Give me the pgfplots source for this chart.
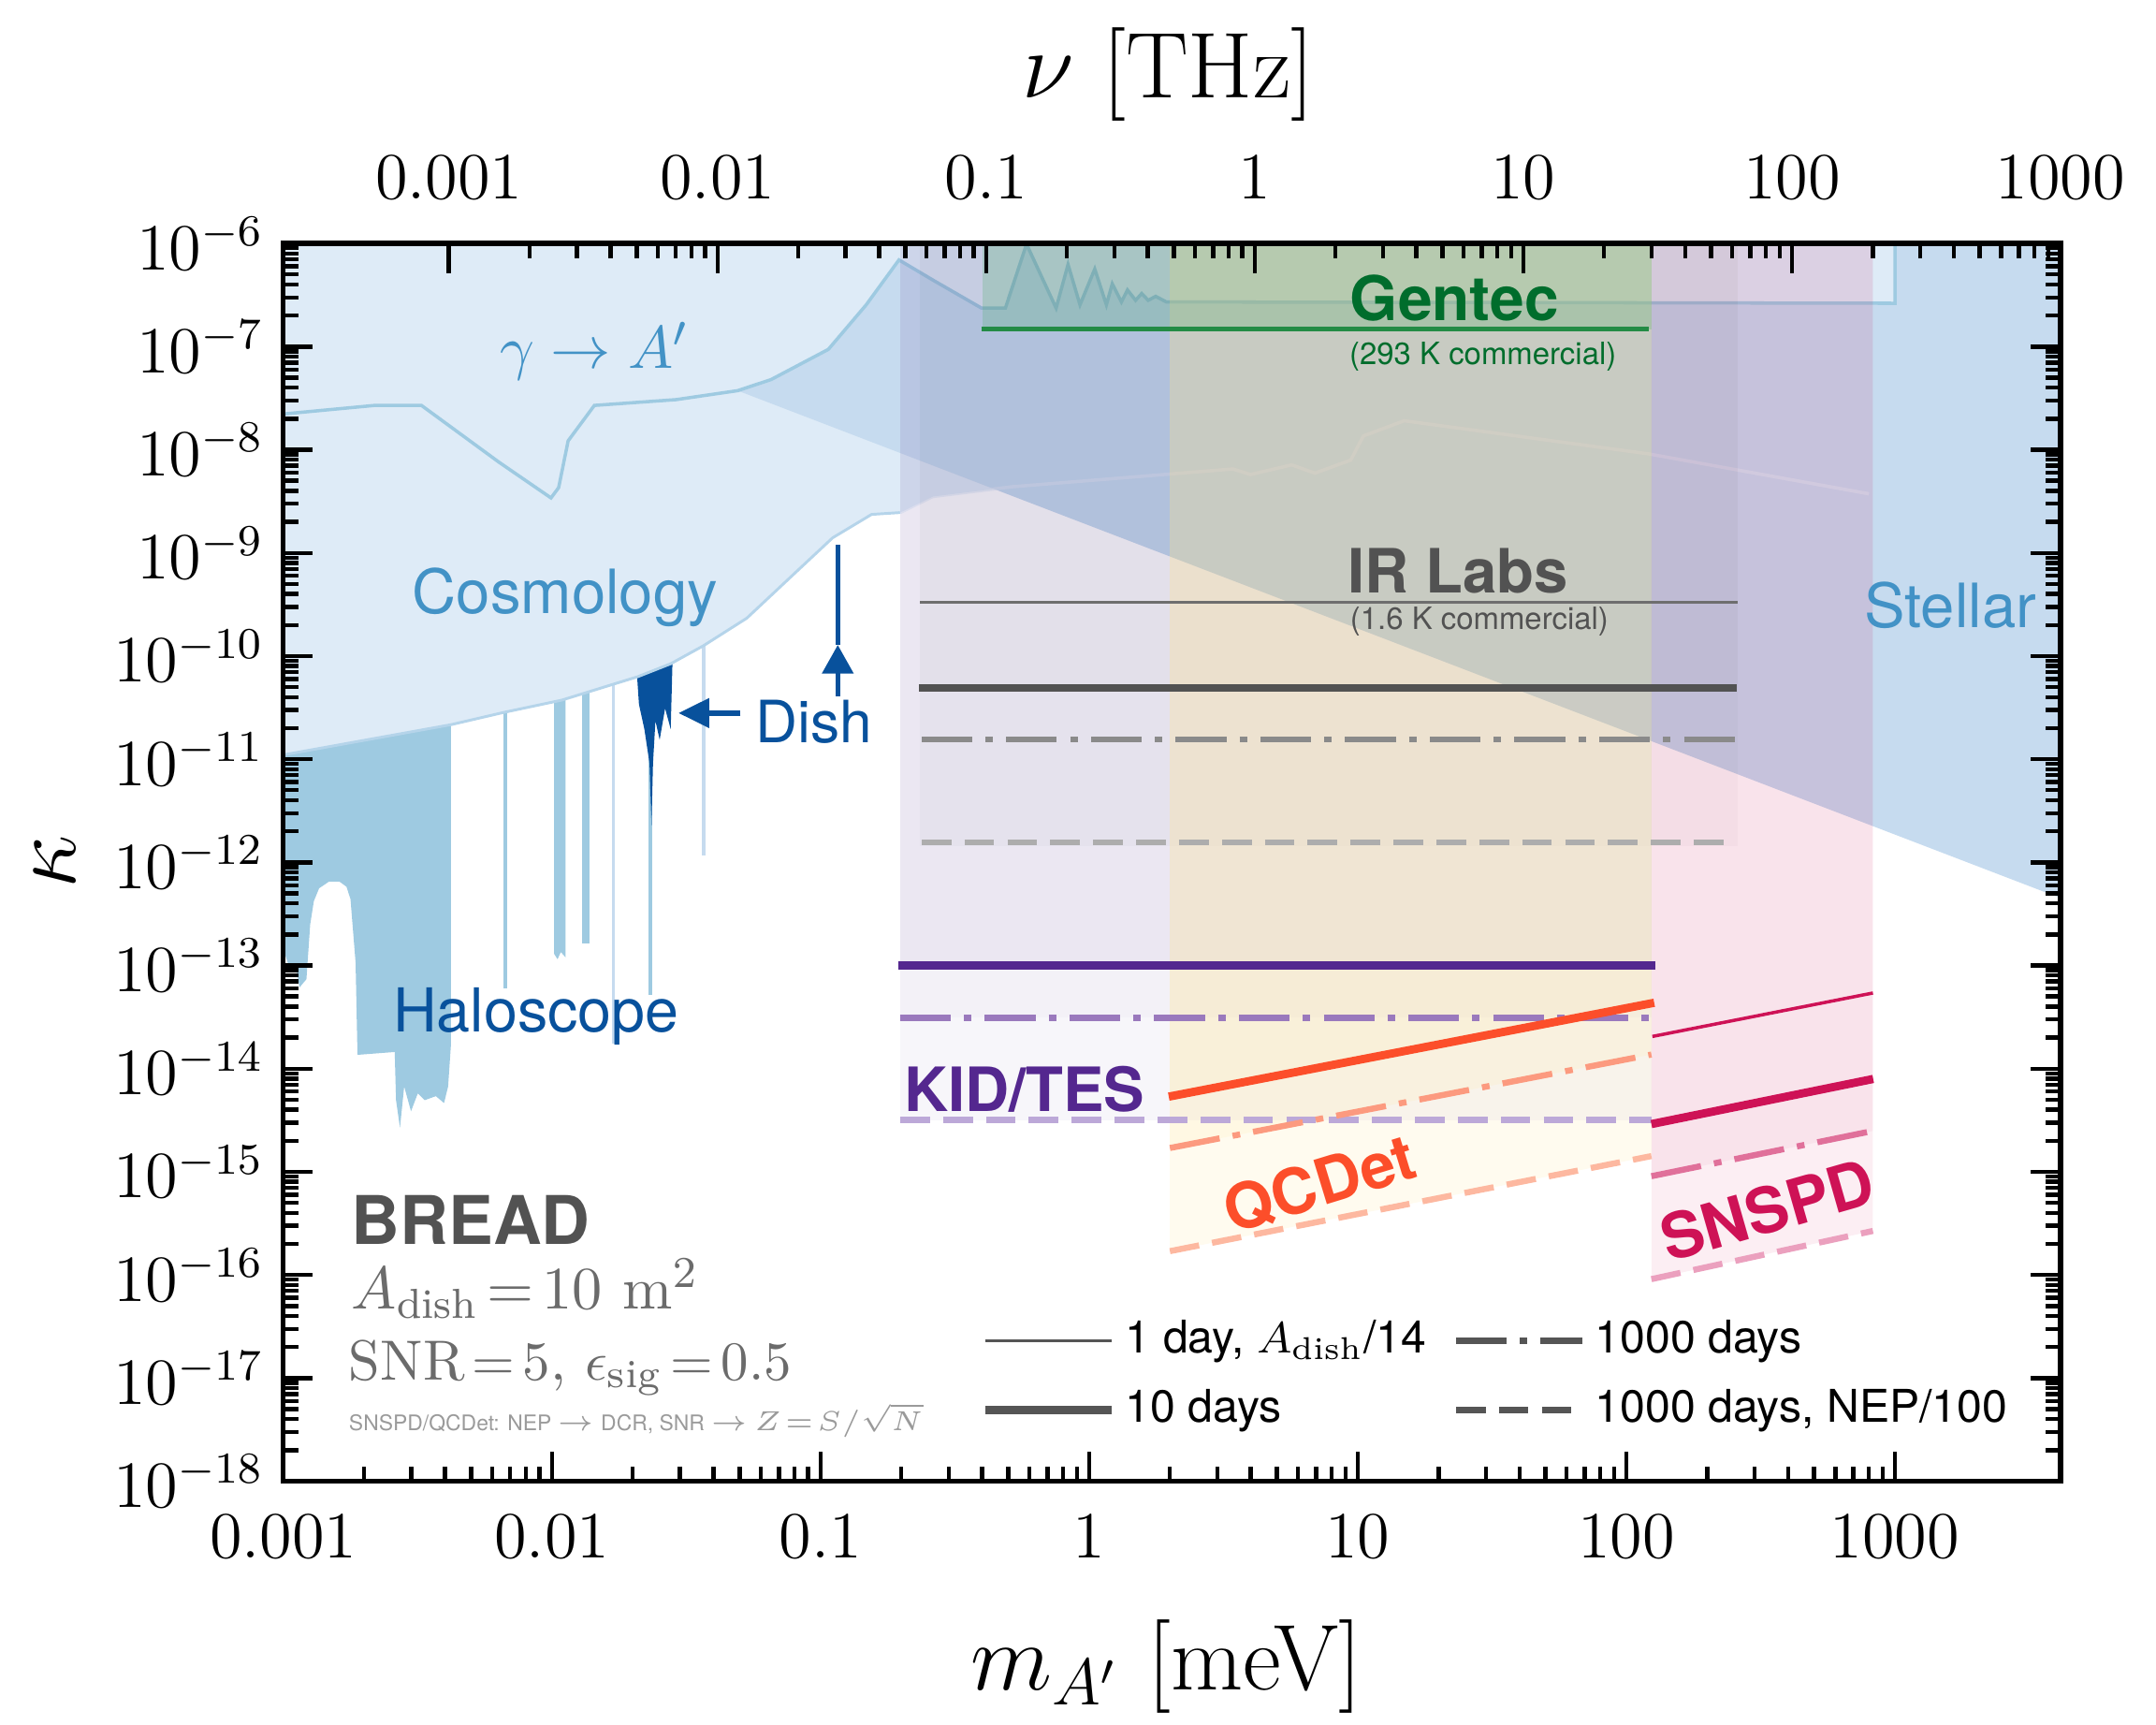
\documentclass[border=0pt]{standalone}
\usepackage{pgfplots}
\pgfplotsset{compat=1.18}
\usepackage{fontspec}
\newfontfamily\hv{TeX Gyre Heros}
\usetikzlibrary{arrows.meta}
\definecolor{cosmo}{HTML}{DEEBF7}
\definecolor{stellar}{HTML}{C6DBEF}
\definecolor{halo}{HTML}{9ECAE1}
\definecolor{bluetext}{HTML}{4292C6}
\definecolor{darkblue}{HTML}{08519C}
\definecolor{cosmoedge}{HTML}{B5D4EA}
\definecolor{irgray}{HTML}{525252}
\definecolor{irthin}{HTML}{6E6E6E}
\definecolor{irdd}{HTML}{8A8A8A}
\definecolor{irdash}{HTML}{ADADAD}
\definecolor{kidfill}{HTML}{6A51A3}
\definecolor{kid}{HTML}{54278F}
\definecolor{kiddd}{HTML}{9A79BD}
\definecolor{kiddash}{HTML}{BCA8D8}
\definecolor{qcdfill}{HTML}{FEE391}
\definecolor{qcd}{HTML}{FC4E2A}
\definecolor{qcddd}{HTML}{FC9A7F}
\definecolor{qcddash}{HTML}{FDB8A0}
\definecolor{sns}{HTML}{CE1256}
\definecolor{snsdd}{HTML}{E0709A}
\definecolor{snsdash}{HTML}{EBA0BE}
\definecolor{gentec}{HTML}{006D2C}
\definecolor{gentecline}{HTML}{238B45}
\definecolor{gentecfill}{HTML}{41AB5D}
\definecolor{legendgray}{HTML}{555555}
\definecolor{notegray}{HTML}{6B6B6B}
\definecolor{smallgray}{HTML}{9A9A9A}
\tikzset{
  thinl/.style={line width=0.6pt},
  thickl/.style={line width=1.5pt},
  ddl/.style={line width=1.1pt, dash pattern=on 9.2pt off 2.4pt on 1.4pt off 2.4pt},
  dashl/.style={line width=1.1pt, dash pattern=on 5.4pt off 2.4pt},
}
\pgfplotsset{
  frame/.style={
    at={(0pt,0pt)}, anchor=south west,
    scale only axis, width=323.15pt, height=225pt,
    tick align=inside,
    major tick length=5.4pt, minor tick length=2.7pt,
    tick style={black, line width=0.75pt},
    tick label style={font=\fontsize{12}{14}\selectfont},
  },
}
\begin{document}
\begin{tikzpicture}
\begin{axis}[
  frame,
  xmode=log, ymode=log,
  xmin=0.001, xmax=4135.7, ymin=1e-18, ymax=1e-6,
  xtickten={-3,-2,-1,0,1,2,3},
  xticklabels={$0.001$,$0.01$,$0.1$,$1$,$10$,$100$,$1000$},
  ytickten={-18,-17,...,-6},
  xtick pos=left,
  axis line style={line width=0.9pt},
  xticklabel style={yshift=-2.75pt},
  xlabel={$m_{A'}$ [meV]},
  xlabel style={font=\fontsize{17}{20}\selectfont, inner sep=0pt, at={(axis description cs:0.497,-0.15)}, anchor=center},
  ylabel={$\kappa$},
  ylabel style={font=\fontsize{17}{20}\selectfont, inner sep=0pt, at={(axis description cs:-0.1284,0.5)}, anchor=center},
  legend columns=2,
  legend cell align=left,
  legend image code/.code={\draw[#1] (0pt,0pt) -- (23pt,0pt);},
  legend style={at={(rel axis cs:0.392,0.139)}, anchor=north west, draw=none, fill=none,
    inner sep=0pt, font=\hv\fontsize{8.2}{9.5}\selectfont, row sep=1.5pt,
    nodes={inner sep=1.8pt},
    /tikz/every even column/.append style={column sep=3pt}},
]
% legend entries
\addlegendimage{legendgray, thinl}
\addlegendentry{1 day, $A_\mathrm{dish}$/14}
\addlegendimage{legendgray, ddl}
\addlegendentry{1000 days}
\addlegendimage{legendgray, thickl}
\addlegendentry{10 days}
\addlegendimage{legendgray, dashl}
\addlegendentry{1000 days, NEP/100}

% Haloscope
\addplot[fill=halo, draw=none, forget plot] coordinates {(0.001,1e-10) (0.001,1.45e-13) (0.00106,9.12e-14) (0.00111,1.06e-13) (0.00115,6.12e-14) (0.00122,7.36e-14) (0.00126,2.5e-13) (0.00130,4.2e-13) (0.00136,5.6e-13) (0.00148,6.5e-13) (0.00162,6.5e-13) (0.00172,5.8e-13) (0.00178,4.4e-13) (0.00183,1.8e-13) (0.00186,1.06e-13) (0.00189,1.36e-14) (0.0026,1.45e-14) (0.00263,4.94e-15) (0.00272,2.67e-15) (0.00282,6.71e-15) (0.00299,3.86e-15) (0.00317,5.75e-15) (0.00336,4.94e-15) (0.0037,5.41e-15) (0.00397,4.64e-15) (0.00411,6.71e-15) (0.00421,1.69e-14) (0.00421,1e-10)};
\addplot[halo, line width=0.6pt, forget plot] coordinates {(0.0067,6.03e-14) (0.0067,1e-10)};
\addplot[fill=halo, draw=none, forget plot] coordinates {(0.01019,1.3e-13) (0.0105,1.15e-13) (0.0108,1.35e-13) (0.01125,1.2e-13) (0.01125,1e-10) (0.01019,1e-10)};
\addplot[fill=halo, draw=none, forget plot] coordinates {(0.0130,1.64e-13) (0.0138,1.64e-13) (0.0138,1e-10) (0.0130,1e-10)};
\addplot[stellar, line width=0.5pt, forget plot] coordinates {(0.0170,1.75e-14) (0.0170,1e-10)};
\addplot[halo, line width=0.6pt, forget plot] coordinates {(0.0233,5.17e-14) (0.0233,1e-10)};
\addplot[stellar, line width=0.6pt, forget plot] coordinates {(0.0367,1.17e-12) (0.0367,1e-9)};
% Dish
\addplot[fill=darkblue, draw=none, forget plot] coordinates {(0.0208,2e-10) (0.0208,6.0e-11) (0.0211,3.41e-11) (0.0221,1.96e-11) (0.0231,9.12e-12) (0.0235,2.29e-12) (0.0238,9.12e-12) (0.0243,2.36e-11) (0.0252,1.54e-11) (0.0264,3.11e-11) (0.0277,1.96e-11) (0.0281,8.0e-11) (0.0281,2e-10)};
% Cosmology
\addplot[fill=cosmo, draw=none, forget plot] coordinates {(0.001,1.10e-11) (0.00421,2.16e-11) (0.00662,2.84e-11) (0.0109,3.74e-11) (0.0209,6.31e-11) (0.0277,8.42e-11) (0.0367,1.26e-10) (0.0532,2.33e-10) (0.080,6.31e-10) (0.111,1.40e-9) (0.155,2.36e-9) (0.198,2.46e-9) (0.262,3.52e-9) (0.514,4.37e-9) (3.43,6.51e-9) (3.99,5.75e-9) (5.68,7.13e-9) (6.93,5.93e-9) (9.42,7.94e-9) (10.5,1.36e-8) (14.9,1.91e-8) (121,9.12e-9) (800,3.74e-9) (828,2.93e-9) (828,1e-6) (0.001,1e-6)};
\addplot[cosmoedge, line width=0.5pt, forget plot] coordinates {(0.001,1.10e-11) (0.00421,2.16e-11) (0.00662,2.84e-11) (0.0109,3.74e-11) (0.0209,6.31e-11) (0.0277,8.42e-11) (0.0367,1.26e-10) (0.0532,2.33e-10) (0.080,6.31e-10) (0.111,1.40e-9) (0.155,2.36e-9) (0.198,2.46e-9)};
% Stellar
\addplot[fill=stellar, draw=none, forget plot] coordinates {(0.0492,3.74e-8) (4135.7,4.5e-13) (4135.7,1e-6) (0.0492,1e-6)};
\addplot[cosmo, line width=0.6pt, opacity=0.55, forget plot] coordinates {(0.198,2.46e-9) (0.262,3.52e-9) (0.514,4.37e-9) (3.43,6.51e-9) (3.99,5.75e-9) (5.68,7.13e-9) (6.93,5.93e-9) (9.42,7.94e-9) (10.5,1.36e-8) (14.9,1.91e-8) (121,9.12e-9) (800,3.74e-9)};
% gamma -> A'
\addplot[fill=cosmo, draw=none, forget plot] coordinates {(0.001,1e-6) (0.001,2.22e-8) (0.00219,2.69e-8) (0.00327,2.69e-8) (0.00635,7.59e-9) (0.00993,3.41e-9) (0.0106,4.29e-9) (0.0115,1.22e-8) (0.0144,2.69e-8) (0.0290,3.06e-8) (0.0492,3.74e-8) (0.0655,4.79e-8) (0.107,9.40e-8) (0.148,2.54e-7) (0.196,6.92e-7) (0.264,4.37e-7) (0.398,2.36e-7) (0.488,2.36e-7) (0.585,9.85e-7) (0.754,2.36e-7) (0.835,6.25e-7) (0.925,2.54e-7) (1.05,5.65e-7) (1.16,2.54e-7) (1.22,4.06e-7) (1.32,2.71e-7) (1.39,3.54e-7) (1.49,2.81e-7) (1.57,3.27e-7) (1.66,2.81e-7) (1.77,3.07e-7) (1.94,2.71e-7) (1000,2.63e-7) (1000,1e-6)};
\addplot[halo, line width=0.6pt, forget plot] coordinates {(0.001,2.22e-8) (0.00219,2.69e-8) (0.00327,2.69e-8) (0.00635,7.59e-9) (0.00993,3.41e-9) (0.0106,4.29e-9) (0.0115,1.22e-8) (0.0144,2.69e-8) (0.0290,3.06e-8) (0.0492,3.74e-8) (0.0655,4.79e-8) (0.107,9.40e-8) (0.148,2.54e-7) (0.196,6.92e-7) (0.264,4.37e-7) (0.398,2.36e-7) (0.488,2.36e-7) (0.585,9.85e-7) (0.754,2.36e-7) (0.835,6.25e-7) (0.925,2.54e-7) (1.05,5.65e-7) (1.16,2.54e-7) (1.22,4.06e-7) (1.32,2.71e-7) (1.39,3.54e-7) (1.49,2.81e-7) (1.57,3.27e-7) (1.66,2.81e-7) (1.77,3.07e-7) (1.94,2.71e-7) (1000,2.63e-7) (1000,1e-6)};

% IR Labs band
\addplot[fill=irgray, fill opacity=0.035, draw=none, forget plot] coordinates {(0.235,1.45e-12) (260,1.45e-12) (260,1e-6) (0.235,1e-6)};
\addplot[fill=irgray, fill opacity=0.02, draw=none, forget plot] coordinates {(0.235,4.91e-11) (260,4.91e-11) (260,1e-6) (0.235,1e-6)};
% KID/TES band
\addplot[fill=kidfill, fill opacity=0.05, draw=none, forget plot] coordinates {(0.198,3.17e-15) (124,3.17e-15) (124,1e-6) (0.198,1e-6)};
\addplot[fill=kidfill, fill opacity=0.03, draw=none, forget plot] coordinates {(0.198,3.11e-14) (124,3.11e-14) (124,1e-6) (0.198,1e-6)};
\addplot[fill=kidfill, fill opacity=0.06, draw=none, forget plot] coordinates {(0.198,1e-13) (124,1e-13) (124,1e-6) (0.198,1e-6)};
% QCDet band
\addplot[fill=qcdfill, fill opacity=0.15, draw=none, forget plot] coordinates {(2,1.7e-16) (124,1.42e-15) (124,1e-6) (2,1e-6)};
\addplot[fill=qcdfill, fill opacity=0.13, draw=none, forget plot] coordinates {(2,1.7e-15) (124,1.37e-14) (124,1e-6) (2,1e-6)};
\addplot[fill=qcdfill, fill opacity=0.08, draw=none, forget plot] coordinates {(2,5.35e-15) (124,4.3e-14) (124,1e-6) (2,1e-6)};
% SNSPD band
\addplot[fill=sns, fill opacity=0.07, draw=none, forget plot] coordinates {(124,9.1e-17) (828,2.67e-16) (828,1e-6) (124,1e-6)};
\addplot[fill=sns, fill opacity=0.05, draw=none, forget plot] coordinates {(124,9.06e-16) (828,2.49e-15) (828,1e-6) (124,1e-6)};
% Gentec band
\addplot[fill=gentecfill, fill opacity=0.22, draw=none, forget plot] coordinates {(0.4,1.48e-7) (124,1.48e-7) (124,1e-6) (0.4,1e-6)};

% lines
\addplot[irthin, thinl, forget plot] coordinates {(0.235,3.33e-10) (260,3.33e-10)};
\addplot[irgray, thickl, forget plot] coordinates {(0.233,4.91e-11) (257,4.91e-11)};
\addplot[irdd, ddl, forget plot] coordinates {(0.238,1.56e-11) (260,1.56e-11)};
\addplot[irdash, dashl, forget plot] coordinates {(0.238,1.56e-12) (257,1.56e-12)};
\addplot[kid, thickl, forget plot] coordinates {(0.195,1e-13) (128,1e-13)};
\addplot[kiddd, ddl, forget plot] coordinates {(0.198,3.11e-14) (124,3.11e-14)};
\addplot[kiddash, dashl, forget plot] coordinates {(0.198,3.17e-15) (124,3.17e-15)};
\addplot[qcd, thickl, forget plot] coordinates {(1.98,5.35e-15) (127,4.35e-14)};
\addplot[qcddd, ddl, forget plot] coordinates {(2,1.7e-15) (124,1.37e-14)};
\addplot[qcddash, dashl, forget plot] coordinates {(2,1.7e-16) (124,1.42e-15)};
\addplot[sns, thinl, forget plot] coordinates {(125,2.05e-14) (828,5.41e-14)};
\addplot[sns, thickl, forget plot] coordinates {(124,2.9e-15) (830,7.94e-15)};
\addplot[snsdd, ddl, forget plot] coordinates {(124,9.06e-16) (828,2.49e-15)};
\addplot[snsdash, dashl, forget plot] coordinates {(124,9.1e-17) (828,2.67e-16)};
\addplot[gentecline, line width=0.8pt, forget plot] coordinates {(0.397,1.48e-7) (121,1.48e-7)};

% Dish arrows
\addplot[darkblue, line width=0.8pt, -{Triangle[width=5.6pt,length=5.2pt]}, forget plot] coordinates {(0.116,4.1e-11) (0.116,1.28e-10)};
\addplot[darkblue, line width=0.8pt, forget plot] coordinates {(0.116,1.28e-10) (0.116,1.2e-9)};
\addplot[darkblue, line width=1pt, -{Triangle[width=5.2pt,length=5.6pt]}, forget plot] coordinates {(0.0504,2.8e-11) (0.0296,2.8e-11)};

% labels
\node[anchor=base, font=\hv\bfseries\fontsize{11.2}{13}\selectfont, text=gentec, inner sep=0pt] at (rel axis cs:0.659,0.938) {Gentec};
\node[anchor=base, font=\hv\fontsize{5.6}{7}\selectfont, text=gentec, inner sep=0pt] at (rel axis cs:0.675,0.902) {(293 K commercial)};
\node[anchor=base, font=\hv\bfseries\fontsize{11.1}{13}\selectfont, text=irgray, inner sep=0pt] at (rel axis cs:0.661,0.718) {IR Labs};
\node[anchor=base, font=\hv\fontsize{5.6}{7}\selectfont, text=irgray, inner sep=0pt] at (rel axis cs:0.673,0.688) {(1.6 K commercial)};
\node[anchor=base, font=\hv\bfseries\fontsize{11.1}{13}\selectfont, text=kid, inner sep=0pt] at (rel axis cs:0.417,0.299) {KID/TES};
\node[rotate=17, font=\hv\bfseries\fontsize{11.5}{13}\selectfont, text=qcd, inner sep=0pt] at (rel axis cs:0.583,0.240) {QCDet};
\node[rotate=16, font=\hv\bfseries\fontsize{11.5}{13}\selectfont, text=sns, inner sep=0pt] at (rel axis cs:0.835,0.219) {SNSPD};
\node[anchor=base, font=\hv\fontsize{11.1}{13}\selectfont, text=bluetext, inner sep=0pt] at (rel axis cs:0.938,0.690) {Stellar};
\node[anchor=base, font=\hv\fontsize{11.1}{13}\selectfont, text=bluetext, inner sep=0pt] at (rel axis cs:0.1586,0.701) {Cosmology};
\node[anchor=base, font=\fontsize{11.1}{13}\selectfont, text=bluetext, inner sep=0pt] at (rel axis cs:0.175,0.899) {$\gamma\rightarrow A'$};
\node[anchor=base, font=\hv\fontsize{11}{13}\selectfont, text=darkblue, inner sep=0pt] at (rel axis cs:0.1423,0.363) {Haloscope};
\node[anchor=base, font=\hv\fontsize{10.6}{13}\selectfont, text=darkblue, inner sep=0pt] at (rel axis cs:0.2986,0.597) {Dish};
\node[anchor=base west, font=\hv\bfseries\fontsize{12.2}{14}\selectfont, text=irgray, inner sep=0pt] at (rel axis cs:0.0379,0.191) {BREAD};
\node[anchor=base west, font=\fontsize{10.9}{13}\selectfont, text=notegray, inner sep=0pt] at (rel axis cs:0.0379,0.139) {\thickmuskip=2.5mu $A_\mathrm{dish} = 10~\mathrm{m}^2$};
\node[anchor=base west, font=\fontsize{10.3}{13}\selectfont, text=notegray, inner sep=0pt] at (rel axis cs:0.0364,0.082) {\thickmuskip=2.5mu $\mathrm{SNR} = 5$, $\epsilon_\mathrm{sig} = 0.5$};
\node[anchor=base west, font=\hv\fontsize{3.9}{5}\selectfont, text=smallgray, inner sep=0pt] at (rel axis cs:0.0364,0.041) {\thickmuskip=1.5mu SNSPD/QCDet: NEP $\rightarrow$ DCR, SNR $\rightarrow$ $Z = S/\sqrt{N}$};
\end{axis}
% overlay frame: ticks drawn above all fills, no labels
\begin{axis}[
  frame, clip=false,
  xmode=log, ymode=log,
  xmin=0.001, xmax=4135.7, ymin=1e-18, ymax=1e-6,
  xtickten={-3,-2,-1,0,1,2,3},
  ytickten={-18,-17,...,-6},
  xticklabels={,,,,,,},
  yticklabels={,,,,,,,,,,,,},
  xtick pos=left,
  axis line style={line width=0.9pt},
]
\end{axis}
% top axis in THz
\begin{axis}[
  frame, clip=false,
  xmode=log, xmin=2.418e-4, xmax=1000.06, ymin=0, ymax=1,
  axis x line*=top, axis y line=none,
  xtickten={-3,-2,-1,0,1,2,3},
  xticklabels={$0.001$,$0.01$,$0.1$,$1$,$10$,$100$,$1000$},
  axis line style={line width=0.9pt, -},
  xticklabel style={yshift=4.5pt},
  xlabel={$\nu$ [THz]},
  xlabel style={font=\fontsize{17}{20}\selectfont, inner sep=0pt, at={(axis description cs:0.498,1.1367)}, anchor=center},
]
\end{axis}
\path (-51.5pt,-44.25pt) rectangle (340.5pt,269.25pt);
\end{tikzpicture}
\end{document}
